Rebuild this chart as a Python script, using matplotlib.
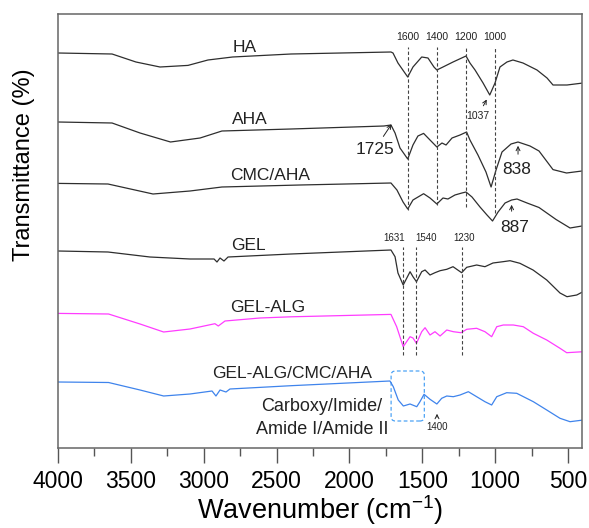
import matplotlib.pyplot as plt
from matplotlib.patches import FancyBboxPatch
from matplotlib.ticker import MultipleLocator

plt.rcParams['font.family'] = ['Liberation Sans', 'DejaVu Sans']
plt.rcParams['mathtext.fontset'] = 'custom'
plt.rcParams['mathtext.rm'] = 'Liberation Sans'
plt.rcParams['mathtext.it'] = 'Liberation Sans:italic'

# FTIR spectra (wavenumber, transmittance in arbitrary offset units)
ha_w = [4000, 3629, 3465, 3300, 3108, 2971, 2802, 2401, 1715, 1701, 1667, 1600, 1564, 1504,
        1461, 1420, 1400, 1358, 1289, 1200, 1173, 1138, 1083, 1037, 1001, 967, 919, 878,
        809, 713, 644, 603, 507, 397]
ha_t = [395, 394, 386, 381, 382.6, 388, 391, 394, 396, 395, 385, 371, 381, 391,
        390, 381, 378, 381, 386, 392, 385, 378, 365, 353, 365, 381, 386, 388,
        385, 378, 370, 363, 363, 365]

aha_w = [4000, 3629, 3437, 3228, 3025, 2875, 2401, 1763, 1715, 1687, 1653, 1600, 1564, 1530,
         1491, 1447, 1400, 1365, 1337, 1296, 1241, 1196, 1173, 1118, 1063, 1028, 994, 953,
         891, 843, 761, 699, 603, 510, 404]
aha_t = [326, 325, 315, 306, 310, 317, 319, 322, 323, 315, 300, 289, 303, 312,
         314.6, 308, 301, 305, 303, 310, 313, 316, 308, 293, 276, 261, 278, 296,
         304, 306, 302, 297, 278.4, 275, 277]

cmc_w = [4000, 3657, 3348, 3094, 2875, 2339, 1715, 1674, 1632, 1600, 1564, 1491, 1447, 1400,
         1358, 1324, 1276, 1228, 1200, 1159, 1104, 1056, 1018, 980, 932, 887, 850, 781,
         699, 582, 486, 404]
cmc_t = [264.6, 264, 254, 257, 261, 263, 265, 258, 246, 239, 248, 254.3, 250, 244,
         250, 249, 253, 255, 256, 251, 241, 233, 227, 236, 245, 248, 249, 245,
         240.5, 228.5, 220, 222]

gel_w = [4000, 3657, 3369, 3094, 2929, 2909, 2888, 2861, 2833, 2401, 1715, 1687, 1667, 1631,
         1584, 1564, 1540, 1504, 1481, 1447, 1413, 1378, 1332, 1289, 1230, 1195, 1127, 1070,
         1015, 946, 898, 830, 740, 646, 555, 507, 440, 397]
gel_t = [197, 196, 191, 189, 189, 186, 190, 187, 191, 194, 198, 191.3, 175, 163,
         176.3, 171.3, 166.3, 176.3, 178, 173, 175.3, 177.3, 178.7, 181.3, 175.3, 180.7, 183, 181.3,
         185, 186.3, 187.3, 184.7, 178, 168, 155, 151.3, 153, 156.3]

galg_w = [4000, 3653, 3437, 3275, 3094, 2923, 2900, 2854, 2614, 2401, 1715, 1676, 1631, 1584,
          1564, 1540, 1504, 1481, 1447, 1413, 1378, 1332, 1287, 1234, 1195, 1127, 1070, 1024,
          989, 944, 875, 807, 738, 646, 555, 509, 395]
galg_t = [134.6, 134, 124, 116, 119, 124.3, 122, 127, 130, 131.2, 133.6, 121.3, 101.3, 111.3,
          110, 104.7, 116.3, 120.3, 113, 116.3, 112, 118, 116.3, 115.3, 118.7, 119.7, 116.3, 111.3,
          121.3, 123, 123, 121.3, 114.7, 108, 99.7, 95.3, 96.3]

mix_w = [4000, 3653, 3437, 3275, 3094, 2943, 2916, 2888, 2847, 2820, 2401, 1722, 1699, 1665,
         1630, 1584, 1538, 1516, 1488, 1447, 1400, 1367, 1332, 1287, 1241, 1184, 1127, 1070,
         1024, 989, 921, 852, 738, 646, 555, 486, 395]
mix_t = [66, 65.5, 58, 52, 54, 57, 52, 58, 56, 59, 62.3, 67, 61.3, 48,
         42, 44, 41.3, 46.3, 53.7, 48.7, 44, 49.7, 52, 51.3, 53, 56.3, 51.3, 46.3,
         43, 51.3, 55.3, 54.7, 46.3, 38, 29.7, 26.3, 28]

ha_peaks = [1600, 1400, 1200, 1000]
gel_peaks = [1631, 1540, 1230]

fig = plt.figure(figsize=(5.89, 5.28), dpi=100)
ax = fig.add_axes([58 / 589, 80 / 528, 524 / 589, 434 / 528])

dark = '#2e2e2e'
ax.plot(ha_w, ha_t, color=dark, lw=0.9)
ax.plot(aha_w, aha_t, color=dark, lw=0.9)
ax.plot(cmc_w, cmc_t, color=dark, lw=0.9)
ax.plot(gel_w, gel_t, color=dark, lw=0.9)
ax.plot(galg_w, galg_t, color='#ff3cff', lw=0.9)
ax.plot(mix_w, mix_t, color='#3f84ec', lw=0.9)

# reference lines
dash = (0, (3, 2))
for w, lo in zip(ha_peaks, [238, 243, 241, 235]):
    ax.plot([w, w], [lo, 401], color='#444444', lw=0.8, ls=dash)
    ax.text(w, 411, str(w), ha='center', va='center', fontsize=7.5, color='#222222')
for w, xt in zip(gel_peaks, [1691, 1474, 1214]):
    ax.plot([w, w], [93, 201], color='#444444', lw=0.8, ls=dash)
    ax.text(xt, 210, str(w), ha='center', va='center', fontsize=7, color='#222222')

lab = dict(ha='center', va='center', fontsize=12.5, color='#222222')
ax.text(2717, 400, 'HA', **lab)
ax.text(2682, 328, 'AHA', **lab)
ax.text(2545, 273, 'CMC/AHA', **lab)
ax.text(2696, 202, 'GEL', **lab)
ax.text(2559, 141, 'GEL-ALG', **lab)
ax.text(2394, 75, 'GEL-ALG/CMC/AHA', **lab)

arr = dict(arrowstyle='->', lw=0.7, color='#222222', mutation_scale=7)
ax.annotate('1037', xy=(1049, 351), xytext=(1118, 332), ha='center', va='center',
            fontsize=7.5, color='#222222', arrowprops=arr)
ax.annotate('1725', xy=(1701, 326), xytext=(1825, 299), ha='center', va='center',
            fontsize=12.5, color='#222222', arrowprops=arr)
ax.annotate('', xy=(843, 305), xytext=(843, 291), arrowprops=arr)
ax.text(850, 278, '838', ha='center', va='center', fontsize=12.5, color='#222222')
ax.annotate('', xy=(887, 246), xytext=(887, 234), arrowprops=arr)
ax.text(864, 221, '887', ha='center', va='center', fontsize=12.5, color='#222222')
ax.annotate('', xy=(1399, 37), xytext=(1399, 28), arrowprops=arr)
ax.text(1399, 21, '1400', ha='center', va='center', fontsize=7, color='#222222')

box = FancyBboxPatch((1486, 27), 228, 50, boxstyle='round,pad=0,rounding_size=30',
                     mutation_aspect=0.147, fill=False, ec='#4da3f5', lw=0.9, ls=(0, (3, 2)))
ax.add_patch(box)
ax.text(2188, 30, 'Carboxy/Imide/\nAmide I/Amide II', ha='center', va='center',
        fontsize=13, color='#222222', linespacing=1.45)

ax.set_xlim(4000, 404)
ax.set_ylim(0, 434)
ax.set_yticks([])
ax.xaxis.set_major_locator(MultipleLocator(500))
ax.xaxis.set_minor_locator(MultipleLocator(250))
ax.tick_params(axis='x', which='major', direction='out', length=11, width=1, labelsize=16.5,
               pad=5, color='#555555')
ax.tick_params(axis='x', which='minor', direction='out', length=6, width=1, color='#555555')
for s in ax.spines.values():
    s.set_color('#666666')
    s.set_linewidth(1.1)

ax.set_xlabel('Wavenumber (cm$^{-1}$)', fontsize=19.5, labelpad=0)
ax.text(-0.065, 0.431, 'Transmittance (%)', rotation=90, transform=ax.transAxes,
        ha='center', va='bottom', fontsize=17)

plt.savefig('out.png', dpi=100)
